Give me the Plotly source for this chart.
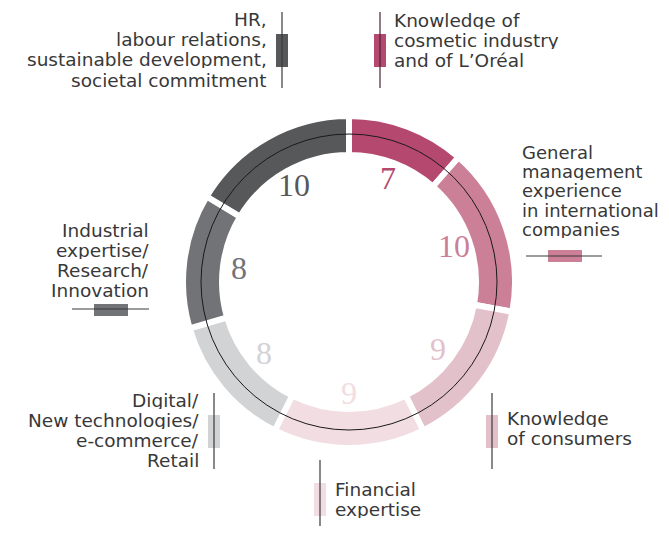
import math
import plotly.graph_objects as go

# expertise areas of the board (clockwise from 12 o'clock)
categories = [
    "Knowledge of cosmetic industry and of L'Oréal",
    "General management experience in international companies",
    "Knowledge of consumers",
    "Financial expertise",
    "Digital/New technologies/e-commerce/Retail",
    "Industrial expertise/Research/Innovation",
    "HR, labour relations, sustainable development, societal commitment",
]
counts = [7, 10, 9, 9, 8, 8, 10]
colors = ["#B5486F", "#CB8098", "#E3C1CA", "#F1DDE2", "#D2D3D5", "#727377", "#57585A"]

W, H = 669, 534
OFF = 8             # page body margin
FW, FH = W - 2 * OFF, H - 2 * OFF
CX, CY = 349, 282   # ring centre in window px
R_OUT = 166         # pie radius (white stroke eats 3px)

def px(x):
    return (x - OFF) / FW

def py(y):
    return 1 - (y - OFF) / FH

fig = go.Figure()
fig.add_trace(go.Pie(
    labels=categories, values=counts,
    sort=False, direction="clockwise", rotation=0,
    hole=0.765,
    marker=dict(colors=colors, line=dict(color="white", width=6)),
    textinfo="none", hoverinfo="skip", showlegend=False,
    domain=dict(x=[px(CX - R_OUT), px(CX + R_OUT)], y=[py(CY + R_OUT), py(CY - R_OUT)]),
))

shapes = []
# thin black circle through the ring
shapes.append(dict(type="circle", xref="paper", yref="paper", layer="above",
                   x0=px(CX - 148), x1=px(CX + 148), y0=py(CY + 148), y1=py(CY - 148),
                   line=dict(color="#1a1a1a", width=1)))

annotations = []
# numbers inside the ring at the middle angle of each slice
total = sum(counts)
cum = 0
for c, col in zip(counts, colors):
    mid = (cum + c / 2) / total * 2 * math.pi
    cum += c
    r = 111
    x = CX + r * math.sin(mid)
    y = CY - r * math.cos(mid)
    annotations.append(dict(x=px(x), y=py(y), xref="paper", yref="paper", text=str(c),
                            showarrow=False, xanchor="center", yanchor="middle",
                            font=dict(family="Liberation Serif", size=32, color=col)))

# outside labels: (lines, x, anchor, first baseline, spacing, font size)
label_blocks = [
    (["HR,", "labour relations,", "sustainable development,", "societal commitment"], 268, "right", 26, 20.2, 18.5),
    (["Knowledge of", "cosmetic industry", "and of L\u2019Oréal"], 393, "left", 27, 20, 18.5),
    (["General", "management", "experience", "in international", "companies"], 521, "left", 159, 19.2, 18),
    (["Industrial", "expertise/", "Research/", "Innovation"], 150, "right", 237, 20, 18.5),
    (["Digital/", "New technologies/", "e-commerce/", "Retail"], 200, "right", 407, 20, 18.5),
    (["Knowledge", "of consumers"], 506, "left", 425, 20, 18.5),
    (["Financial", "expertise"], 334, "left", 496, 20, 18.5),
]
for lines, x, anchor, base, step, fs in label_blocks:
    for i, t in enumerate(lines):
        yb = base + i * step
        annotations.append(dict(x=px(x), y=py(yb - 6.5), xref="paper", yref="paper", text=t,
                                showarrow=False, xanchor=anchor, yanchor="middle",
                                height=17, valign="middle", borderpad=0,
                                font=dict(family="DejaVu Sans", size=fs, color="#383838")))

# small key marks next to labels
def rect(x0, x1, y0, y1, col):
    shapes.append(dict(type="rect", xref="paper", yref="paper", layer="above",
                       x0=px(x0), x1=px(x1), y0=py(y1), y1=py(y0),
                       fillcolor=col, line=dict(width=0)))

def line(x0, y0, x1, y1, col="#3a3a3a"):
    shapes.append(dict(type="line", xref="paper", yref="paper", layer="above",
                       x0=px(x0), x1=px(x1), y0=py(y0), y1=py(y1),
                       line=dict(color=col, width=1.2)))

rect(276, 288, 34, 67, colors[6]); line(282, 12, 282, 88)
rect(374, 386, 34, 67, colors[0]); line(380, 12, 380, 88, "#4a2233")
rect(548, 582, 250, 262, colors[1]); line(526, 256, 602, 256)
rect(94, 128, 304, 316, colors[5]); line(72, 309, 149, 309)
rect(208, 220, 415, 448, colors[4]); line(214, 393, 214, 469)
rect(486, 498, 415, 448, colors[2]); line(492, 393, 492, 469)
rect(314, 326, 483, 516, colors[3]); line(320, 460, 320, 534)

fig.update_layout(
    width=FW, height=FH,
    margin=dict(l=0, r=0, t=0, b=0),
    paper_bgcolor="white", plot_bgcolor="white",
    shapes=shapes, annotations=annotations,
)

fig.write_html("out.html")
